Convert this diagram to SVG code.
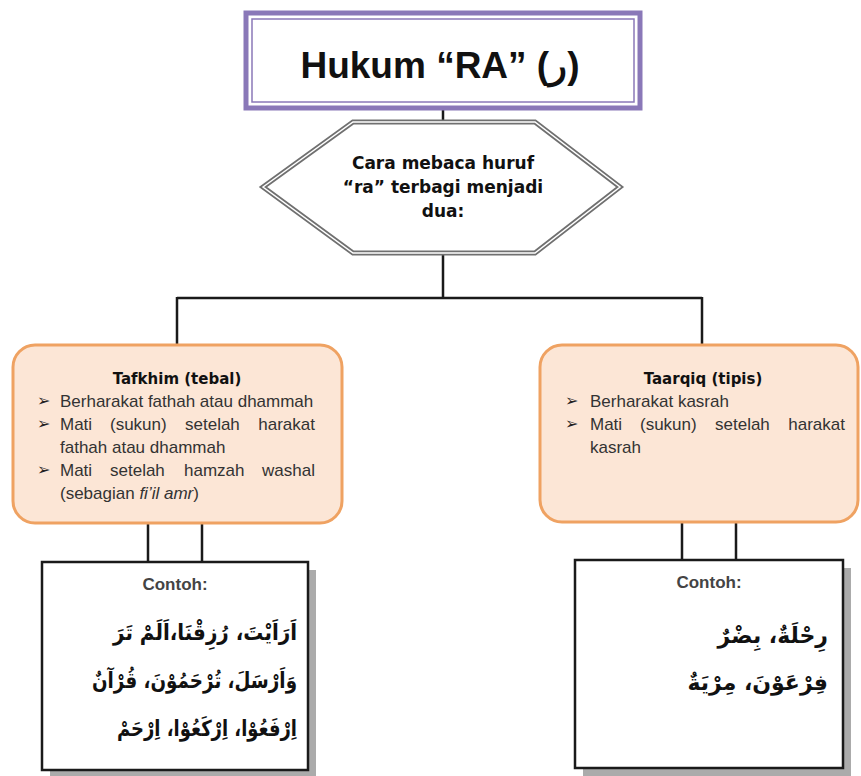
<svg xmlns="http://www.w3.org/2000/svg" width="861" height="776" viewBox="0 0 861 776">
<defs>
<style>
.conn{stroke:#1a1a1a;stroke-width:2.5;fill:none}
.cat{fill:#FCE6D6;stroke:#EFA262;stroke-width:3}
.h{font-family:"DejaVu Sans",sans-serif;font-weight:bold;fill:#111;text-anchor:middle}
.b{font-family:"Liberation Sans",Arial,sans-serif;font-size:17px;fill:#333}
.e{text-anchor:end}
.arw{font-family:"DejaVu Sans",sans-serif;font-size:16px;fill:#222}
.ex{fill:#fff;stroke:#1a1a1a;stroke-width:2.5}
.sh{fill:#ababab}
.ct{font-family:"Liberation Sans",Arial,sans-serif;font-weight:bold;font-size:17px;fill:#444;text-anchor:middle}
.ar{font-family:"DejaVu Sans",sans-serif;font-size:22px;font-weight:bold;fill:#111;text-anchor:end}
</style>
</defs>
<rect width="861" height="776" fill="#fff"/>
<g id="connectors">
<path class="conn" d="M443,108 V122"/>
<path class="conn" d="M443,253 V298 M177,298 H702 M177,297 V345 M702,297 V345"/>
<path class="conn" d="M148,523 V562 M202,523 V562 M682,522 V560 M736,522 V560"/>
</g>
<g id="title">
<rect x="246" y="13" width="394" height="95" fill="#fff" stroke="#8A78B8" stroke-width="5"/>
<rect x="252" y="19" width="382" height="83" fill="none" stroke="#8A78B8" stroke-width="1.5"/>
<text x="440" y="78" text-anchor="middle" font-family="Liberation Sans, Arial, sans-serif" font-weight="bold" font-size="37" fill="#111">Hukum “RA” (ر)</text>
</g>
<g id="intro">
<polygon points="263,187 353,122 535,122 620,187 535,253 353,253" fill="#fff" stroke="#707070" stroke-width="5"/>
<polygon points="263,187 353,122 535,122 620,187 535,253 353,253" fill="none" stroke="#fff" stroke-width="1.5"/>
<text class="h" x="443" y="169" font-size="17">Cara mebaca huruf</text>
<text class="h" x="443" y="193" font-size="17">“ra” terbagi menjadi</text>
<text class="h" x="443" y="217" font-size="17">dua:</text>
</g>
<g id="tafkhim">
<rect class="cat" x="13" y="345" width="329" height="178" rx="22"/>
<text class="h" x="177" y="384" font-size="15">Tafkhim (tebal)</text>
<text class="arw" x="37" y="406">➢</text>
<text class="b" x="60" y="407">Berharakat fathah atau dhammah</text>
<text class="arw" x="37" y="429">➢</text>
<text class="b" x="60" y="430">Mati</text>
<text class="b" x="110" y="430">(sukun)</text>
<text class="b" x="185" y="430">setelah</text>
<text class="b e" x="315" y="430">harakat</text>
<text class="b" x="60" y="453">fathah atau dhammah</text>
<text class="arw" x="37" y="475">➢</text>
<text class="b" x="60" y="476">Mati</text>
<text class="b" x="110" y="476">setelah</text>
<text class="b" x="184" y="476">hamzah</text>
<text class="b e" x="315" y="476">washal</text>
<text class="b" x="60" y="499">(sebagian <tspan font-style="italic">fi’il amr</tspan>)</text>
</g>
<g id="tarqiq">
<rect class="cat" x="540" y="345" width="318" height="177" rx="22"/>
<text class="h" x="703" y="384" font-size="15">Taarqiq (tipis)</text>
<text class="arw" x="565" y="406">➢</text>
<text class="b" x="590" y="407">Berharakat kasrah</text>
<text class="arw" x="565" y="429">➢</text>
<text class="b" x="590" y="430">Mati</text>
<text class="b" x="640" y="430">(sukun)</text>
<text class="b" x="715" y="430">setelah</text>
<text class="b e" x="845" y="430">harakat</text>
<text class="b" x="590" y="453">kasrah</text>
</g>
<g id="contoh-tafkhim">
<rect class="sh" x="50" y="570" width="266" height="210"/>
<rect class="ex" x="42" y="562" width="266" height="208"/>
<text class="ct" x="175" y="590">Contoh:</text>
<text class="ar" x="297" y="640" textLength="184" lengthAdjust="spacingAndGlyphs">اَرَاَيْتَ، رُزِقْنَا،اَلَمْ تَرَ</text>
<text class="ar" x="297" y="688" textLength="205" lengthAdjust="spacingAndGlyphs">وَاَرْسَلَ، تُرْحَمُوْنَ، قُرْآنٌ</text>
<text class="ar" x="297" y="736" textLength="180" lengthAdjust="spacingAndGlyphs">اِرْفَعُوْا، اِرْكَعُوْا، اِرْحَمْ</text>
</g>
<g id="contoh-tarqiq">
<rect class="sh" x="583" y="568" width="268" height="210"/>
<rect class="ex" x="575" y="560" width="268" height="208"/>
<text class="ct" x="709" y="588">Contoh:</text>
<text class="ar" x="828" y="643">رِحْلَةٌ، بِضْرٌ</text>
<text class="ar" x="828" y="690">فِرْعَوْنَ، مِرْيَةٌ</text>
</g>
</svg>
